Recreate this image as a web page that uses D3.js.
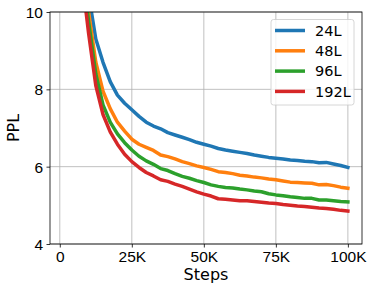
<!DOCTYPE html>
<html>
<head>
<meta charset="utf-8">
<script src="https://cdn.jsdelivr.net/npm/d3@7"></script>
<style>
  body { margin: 0; background: #fff; }
  svg { font-family: 'DejaVu Sans', sans-serif; }
  .grid line { stroke: #b0b0b0; stroke-width: 0.8; }
  .tick text { font-size: 15.5px; fill: #000; }
</style>
</head>
<body>
<svg id="chart" width="374" height="290"></svg>
<script>
// steps in thousands
var steps = [2, 8, 10, 12.5, 15, 17.5, 20, 22.5, 25, 27.5, 30, 32.5, 35, 37.5, 40,
  42.5, 45, 47.5, 50, 52.5, 55, 57.5, 60, 62.5, 65, 67.5, 70, 72.5, 75, 77.5,
  80, 82.5, 85, 87.5, 90, 92.5, 95, 97.5, 100];

var ppl24 = [40, 12.5, 10.45, 9.3, 8.7, 8.2, 7.85, 7.64, 7.47, 7.3, 7.15, 7.05, 6.98, 6.88, 6.82,
  6.76, 6.7, 6.63, 6.58, 6.53, 6.47, 6.43, 6.4, 6.37, 6.34, 6.3, 6.27, 6.24, 6.22, 6.2,
  6.17, 6.16, 6.14, 6.13, 6.1, 6.11, 6.07, 6.03, 5.98];
var ppl48 = [35, 11.5, 10.0, 8.7, 7.95, 7.5, 7.15, 6.92, 6.71, 6.58, 6.5, 6.42, 6.3, 6.26, 6.2,
  6.13, 6.08, 6.02, 5.98, 5.93, 5.87, 5.85, 5.82, 5.78, 5.76, 5.73, 5.71, 5.68, 5.66, 5.63,
  5.6, 5.59, 5.58, 5.57, 5.53, 5.54, 5.51, 5.47, 5.44];
var ppl96 = [32, 11.0, 9.75, 8.4, 7.6, 7.15, 6.85, 6.62, 6.43, 6.27, 6.15, 6.06, 5.95, 5.9, 5.82,
  5.75, 5.7, 5.64, 5.59, 5.53, 5.49, 5.46, 5.45, 5.42, 5.4, 5.37, 5.35, 5.3, 5.27, 5.25,
  5.22, 5.2, 5.18, 5.18, 5.14, 5.14, 5.12, 5.1, 5.09];
var ppl192 = [30, 10.7, 9.45, 8.1, 7.35, 6.9, 6.58, 6.32, 6.13, 5.98, 5.85, 5.76, 5.66, 5.62, 5.55,
  5.49, 5.42, 5.35, 5.29, 5.24, 5.17, 5.16, 5.14, 5.12, 5.12, 5.1, 5.08, 5.06, 5.05, 5.02,
  5.0, 4.98, 4.97, 4.95, 4.93, 4.92, 4.9, 4.87, 4.85];

var seriesNames = ['24L', '48L', '96L', '192L'];
var seriesColors = ['#1f77b4', '#ff7f0e', '#2ca02c', '#d62728'];
var xTicks = [0, 25, 50, 75, 100];
var xTickLabels = ['0', '25K', '50K', '75K', '100K'];
var yTicks = [4, 6, 8, 10];

var G = {
  left: 50, right: 362, top: 12, bottom: 244, labelSize: 16
};

var svg = d3.select('#chart');
var x = d3.scaleLinear().domain([-3.4, 104.9]).range([G.left, G.right]);
var y = d3.scaleLinear().domain([4, 10]).range([G.bottom, G.top]);

svg.append('defs').append('clipPath').attr('id', 'plot-clip')
  .append('rect')
  .attr('x', G.left).attr('y', G.top)
  .attr('width', G.right - G.left).attr('height', G.bottom - G.top);

// grid
var grid = svg.append('g').classed('grid', true);
grid.selectAll('.gx').data(xTicks).enter().append('line')
  .attr('x1', function(d) { return x(d); }).attr('x2', function(d) { return x(d); })
  .attr('y1', G.top).attr('y2', G.bottom);
grid.selectAll('.gy').data(yTicks).enter().append('line')
  .attr('x1', G.left).attr('x2', G.right)
  .attr('y1', function(d) { return y(d); }).attr('y2', function(d) { return y(d); });

// lines
var series = [ppl24, ppl48, ppl96, ppl192];
var line = d3.line()
  .x(function(d, i) { return x(steps[i]); })
  .y(function(d) { return y(d); });
svg.append('g').attr('clip-path', 'url(#plot-clip)')
  .selectAll('path').data(series).enter().append('path')
  .attr('d', line)
  .attr('fill', 'none')
  .attr('stroke', function(d, i) { return seriesColors[i]; })
  .attr('stroke-width', 3.5)
  .attr('stroke-linejoin', 'round')
  .attr('stroke-linecap', 'square');

// axes
var xAxis = d3.axisBottom(x).tickValues(xTicks)
  .tickFormat(function(d, i) { return xTickLabels[i]; })
  .tickSize(3.5).tickPadding(3.5);
var yAxis = d3.axisLeft(y).tickValues(yTicks).tickFormat(d3.format('d'))
  .tickSize(3.5).tickPadding(3.5);
var gx = svg.append('g').attr('transform', 'translate(0,' + G.bottom + ')').call(xAxis);
var gy = svg.append('g').attr('transform', 'translate(' + G.left + ',0)').call(yAxis);
[gx, gy].forEach(function(g) {
  g.select('.domain').remove();
  g.selectAll('.tick line').attr('stroke', '#000').attr('stroke-width', 0.8);
  g.selectAll('.tick text').attr('font-family', null).attr('font-size', null);
});
gy.selectAll('.tick text').attr('dy', '0.36em');

// spines
svg.append('rect')
  .attr('x', G.left).attr('y', G.top)
  .attr('width', G.right - G.left).attr('height', G.bottom - G.top)
  .attr('fill', 'none').attr('stroke', '#000').attr('stroke-width', 0.8);

// axis labels
svg.append('text')
  .attr('x', (G.left + G.right) / 2).attr('y', 280)
  .attr('text-anchor', 'middle').attr('font-size', G.labelSize)
  .text('Steps');
svg.append('text')
  .attr('transform', 'translate(18.5,' + (G.top + G.bottom) / 2 + ') rotate(-90)')
  .attr('text-anchor', 'middle').attr('font-size', G.labelSize)
  .text('PPL');

// legend
var lg = svg.append('g').attr('transform', 'translate(271,19.5)');
lg.append('rect')
  .attr('width', 83).attr('height', 85.5).attr('rx', 2.5)
  .attr('fill', '#fff').attr('fill-opacity', 0.8)
  .attr('stroke', '#cccccc').attr('stroke-width', 0.8);
var item = lg.selectAll('.item').data(seriesNames).enter().append('g')
  .classed('item', true)
  .attr('transform', function(d, i) { return 'translate(0,' + (11 + i * 20.3) + ')'; });
item.append('line')
  .attr('x1', 4).attr('x2', 34)
  .attr('stroke', function(d, i) { return seriesColors[i]; })
  .attr('stroke-width', 3.5);
item.append('text')
  .attr('x', 44).attr('dy', '0.36em').attr('font-size', 14.5)
  .text(function(d) { return d; });
</script>
</body>
</html>
